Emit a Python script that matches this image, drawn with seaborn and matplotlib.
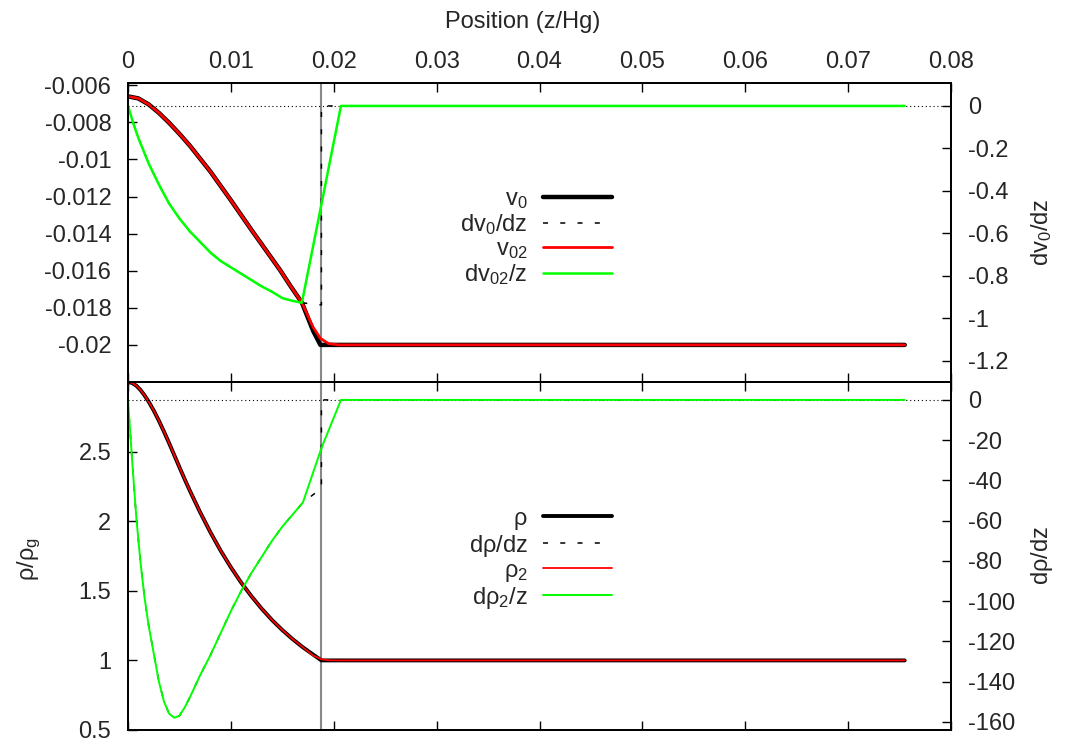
import matplotlib
matplotlib.use('Agg')
import matplotlib.pyplot as plt
import seaborn as sns

# ---- top panel: velocity (left axis) and its gradient (right axis) ----
Z_V0 = [0, 0.001, 0.002, 0.003, 0.004, 0.005, 0.006, 0.008, 0.010, 0.012,
        0.0148, 0.0158, 0.0169, 0.0180, 0.0187, 0.0755]
V0 = [-0.00660, -0.00671, -0.00703, -0.00749, -0.00803, -0.00862, -0.00925,
      -0.01065, -0.01220, -0.01380, -0.01598, -0.01683, -0.01772, -0.01925,
      -0.02000, -0.02000]

Z_V02 = [0, 0.001, 0.002, 0.003, 0.004, 0.005, 0.006, 0.008, 0.010, 0.012,
         0.0148, 0.0158, 0.0169, 0.0180, 0.0187, 0.0195, 0.0205, 0.0755]
V02 = [-0.00660, -0.00671, -0.00703, -0.00749, -0.00803, -0.00862, -0.00925,
       -0.01065, -0.01220, -0.01380, -0.01598, -0.01683, -0.01772, -0.01905,
       -0.01965, -0.01993, -0.02000, -0.02000]

Z_DV0 = [0, 0.0005, 0.001, 0.0015, 0.002, 0.003, 0.004, 0.005, 0.006, 0.007,
         0.008, 0.009, 0.010, 0.011, 0.012, 0.013, 0.014, 0.015, 0.016,
         0.0169, 0.0188, 0.0188, 0.0755]
DV0 = [0, -0.08, -0.15, -0.21, -0.27, -0.37, -0.46, -0.53, -0.59, -0.64,
       -0.69, -0.73, -0.76, -0.79, -0.82, -0.85, -0.875, -0.905, -0.918,
       -0.927, -0.937, 0, 0]

Z_DV02 = [0, 0.0005, 0.001, 0.0015, 0.002, 0.003, 0.004, 0.005, 0.006, 0.007,
          0.008, 0.009, 0.010, 0.011, 0.012, 0.013, 0.014, 0.015, 0.016,
          0.0169, 0.0207, 0.0755]
DV02 = [0, -0.08, -0.15, -0.21, -0.27, -0.37, -0.46, -0.53, -0.59, -0.64,
        -0.69, -0.73, -0.76, -0.79, -0.82, -0.85, -0.875, -0.905, -0.918,
        -0.927, 0, 0]

# ---- bottom panel: density (left axis) and its gradient (right axis) ----
Z_RHO = [0, 0.0004, 0.0008, 0.0012, 0.0016, 0.002, 0.0025, 0.003, 0.0035,
         0.004, 0.0045, 0.005, 0.0055, 0.006, 0.007, 0.008, 0.009, 0.010,
         0.011, 0.012, 0.013, 0.014, 0.015, 0.016, 0.017, 0.0188, 0.0755]
RHO = [3.0, 2.993, 2.974, 2.944, 2.905, 2.86, 2.795, 2.722, 2.643, 2.56,
       2.474, 2.388, 2.303, 2.221, 2.066, 1.922, 1.789, 1.669, 1.559, 1.461,
       1.371, 1.29, 1.218, 1.153, 1.094, 1.0, 1.0]

Z_RHO2 = [0, 0.0004, 0.0008, 0.0012, 0.0016, 0.002, 0.0025, 0.003, 0.0035,
          0.004, 0.0045, 0.005, 0.0055, 0.006, 0.007, 0.008, 0.009, 0.010,
          0.011, 0.012, 0.013, 0.014, 0.015, 0.016, 0.017, 0.018, 0.0188,
          0.0195, 0.0205, 0.0755]
RHO2 = [3.0, 2.993, 2.974, 2.944, 2.905, 2.86, 2.795, 2.722, 2.643, 2.56,
        2.474, 2.388, 2.303, 2.221, 2.066, 1.922, 1.789, 1.669, 1.559, 1.461,
        1.371, 1.29, 1.218, 1.153, 1.094, 1.035, 1.008, 1.001, 1.0, 1.0]

Z_DRHO = [0, 0.0004, 0.0008, 0.0012, 0.0016, 0.002, 0.0025, 0.003, 0.0035,
          0.004, 0.0045, 0.005, 0.0055, 0.006, 0.007, 0.008, 0.009, 0.010,
          0.011, 0.012, 0.013, 0.014, 0.015, 0.016, 0.017, 0.0188, 0.0188,
          0.0755]
DRHO = [0, -30, -58, -80, -98, -112, -126, -140, -150, -156, -158, -157,
        -153, -148, -137, -127, -116, -105, -95, -86, -78, -70, -63, -57,
        -51, -44, 0, 0]

Z_DRHO2 = [0, 0.0004, 0.0008, 0.0012, 0.0016, 0.002, 0.0025, 0.003, 0.0035,
           0.004, 0.0045, 0.005, 0.0055, 0.006, 0.007, 0.008, 0.009, 0.010,
           0.011, 0.012, 0.013, 0.014, 0.015, 0.016, 0.017, 0.0188, 0.0207,
           0.0755]
DRHO2 = [0, -30, -58, -80, -98, -112, -126, -140, -150, -156, -158, -157,
         -153, -148, -137, -127, -116, -105, -95, -86, -78, -70, -63, -57,
         -51, -24, 0, 0]

SHOCK_Z = 0.0188

# ---- ticks ----
X_TICKS = [0, 0.01, 0.02, 0.03, 0.04, 0.05, 0.06, 0.07, 0.08]
X_LABELS = ['0', '0.01', '0.02', '0.03', '0.04', '0.05', '0.06', '0.07', '0.08']
V_TICKS = [-0.006, -0.008, -0.010, -0.012, -0.014, -0.016, -0.018, -0.020]
V_LABELS = ['-0.006', '-0.008', '-0.01', '-0.012', '-0.014', '-0.016', '-0.018', '-0.02']
DV_TICKS = [0, -0.2, -0.4, -0.6, -0.8, -1.0, -1.2]
DV_LABELS = ['0', '-0.2', '-0.4', '-0.6', '-0.8', '-1', '-1.2']
RHO_TICKS = [0.5, 1.0, 1.5, 2.0, 2.5]
RHO_LABELS = ['0.5', '1', '1.5', '2', '2.5']
DRHO_TICKS = [0, -20, -40, -60, -80, -100, -120, -140, -160]
DRHO_LABELS = ['0', '-20', '-40', '-60', '-80', '-100', '-120', '-140', '-160']

FS = 17
GREEN = '#00ff00'
RED = '#ff0000'
DASH = (0, (3.3, 8))

sns.set_theme(style='white')
plt.rcParams['font.family'] = ['Liberation Sans', 'DejaVu Sans']
plt.rcParams['mathtext.fontset'] = 'custom'
plt.rcParams['mathtext.rm'] = 'Liberation Sans'
plt.rcParams['mathtext.it'] = 'Liberation Sans:italic'
plt.rcParams['axes.edgecolor'] = 'black'
plt.rcParams['axes.linewidth'] = 1.3

W, H = 1075, 747
fig = plt.figure(figsize=(W / 100, H / 100), dpi=100)
ax_top = fig.add_axes([128 / W, (H - 382) / H, 823 / W, 299 / H])
ax_bot = fig.add_axes([128 / W, (H - 730) / H, 823 / W, 348 / H])


def line(ax, x, y, **kw):
    sns.lineplot(x=x, y=y, ax=ax, estimator=None, sort=False, legend=False, **kw)
    return ax.lines[-1]


def style_axes(ax, ax2, ylim, y2lim, yt, yl, y2t, y2l):
    ax.set_xlim(0, 0.08)
    ax.set_ylim(*ylim)
    ax2.set_ylim(*y2lim)
    ax.set_xticks(X_TICKS)
    ax.set_yticks(yt, yl)
    ax2.set_yticks(y2t, y2l)
    ax.tick_params(axis='x', direction='in', top=True, bottom=True, length=6.5,
                   width=1, color='black', labelsize=FS, pad=7)
    ax.tick_params(axis='y', direction='in', left=True, right=False, length=6.5,
                   width=1, color='black', labelsize=FS, pad=12)
    ax2.tick_params(axis='y', direction='in', right=True, left=False, length=6.5,
                    width=1, color='black', labelsize=FS, pad=12)
    ax.grid(False)
    ax2.grid(False)
    ax.set_xlabel('')
    ax.set_ylabel('')
    ax2.set_ylabel('')


def add_legend(ax, handles, labels, yc):
    ax.legend(handles, labels, loc='center right', bbox_to_anchor=(0.588, yc),
              frameon=False, markerfirst=False, handlelength=2.9,
              handletextpad=0.67, labelspacing=0.04, borderpad=0,
              borderaxespad=0, fontsize=FS)


# ---------------- top panel ----------------
ax2_top = ax_top.twinx()
ax_top.axvline(SHOCK_Z, color='#888888', lw=1.5, zorder=1)
ax2_top.axhline(0, color='black', lw=0.8, ls=(0, (1, 2.5)), zorder=1)
h1 = line(ax_top, Z_V0, V0, color='black', linewidth=3.2)
h3 = line(ax_top, Z_V02, V02, color=RED, linewidth=2.0)
h2 = line(ax2_top, Z_DV0, DV0, color='black', linewidth=1.1, linestyle=DASH)
h4 = line(ax2_top, Z_DV02, DV02, color=GREEN, linewidth=1.8)
style_axes(ax_top, ax2_top, (-0.022, -0.00588), (-1.3, 0.108),
           V_TICKS, V_LABELS, DV_TICKS, DV_LABELS)
ax_top.set_xticks(X_TICKS, X_LABELS)
ax_top.tick_params(axis='x', labeltop=True, labelbottom=False)
ax_top.xaxis.set_label_position('top')
ax_top.set_xlabel('Position (z/Hg)', fontsize=FS)
ax_top.xaxis.set_label_coords(0.48, 1.184)
ax2_top.set_ylabel(r'$\mathregular{dv_0/dz}$', fontsize=FS)
ax2_top.yaxis.set_label_coords(1.095, 0.5)
add_legend(ax2_top, [h1, h2, h3, h4],
           [r'$\mathregular{v_0}$', r'$\mathregular{dv_0/dz}$',
            r'$\mathregular{v_{02}}$', r'$\mathregular{dv_{02}/z}$'], 0.483)

# ---------------- bottom panel ----------------
ax2_bot = ax_bot.twinx()
ax_bot.axvline(SHOCK_Z, color='#888888', lw=1.5, zorder=1)
ax2_bot.axhline(0, color='black', lw=0.8, ls=(0, (1, 2.5)), zorder=1)
g1 = line(ax_bot, Z_RHO, RHO, color='black', linewidth=2.8)
g3 = line(ax_bot, Z_RHO2, RHO2, color=RED, linewidth=1.3)
g2 = line(ax2_bot, Z_DRHO, DRHO, color='black', linewidth=1.1, linestyle=DASH)
g4 = line(ax2_bot, Z_DRHO2, DRHO2, color=GREEN, linewidth=1.4)
style_axes(ax_bot, ax2_bot, (0.5, 3.0), (-164.1, 8.9),
           RHO_TICKS, RHO_LABELS, DRHO_TICKS, DRHO_LABELS)
ax_bot.tick_params(axis='x', labeltop=False, labelbottom=False)
ax_bot.set_ylabel(r'$\mathregular{ρ/ρ_g}$', fontsize=FS)
ax_bot.yaxis.set_label_coords(-0.103, 0.49)
ax2_bot.set_ylabel(r'$\mathregular{dρ/dz}$', fontsize=FS)
ax2_bot.yaxis.set_label_coords(1.095, 0.5)
add_legend(ax2_bot, [g1, g2, g3, g4],
           [r'$\mathregular{ρ}$', r'$\mathregular{dρ/dz}$',
            r'$\mathregular{ρ_2}$', r'$\mathregular{dρ_2/z}$'], 0.491)

for a in (ax_top, ax2_top, ax_bot, ax2_bot):
    for s in a.spines.values():
        s.set_color('black')
        s.set_linewidth(1.3)

fig.savefig('out.png', dpi=100)
